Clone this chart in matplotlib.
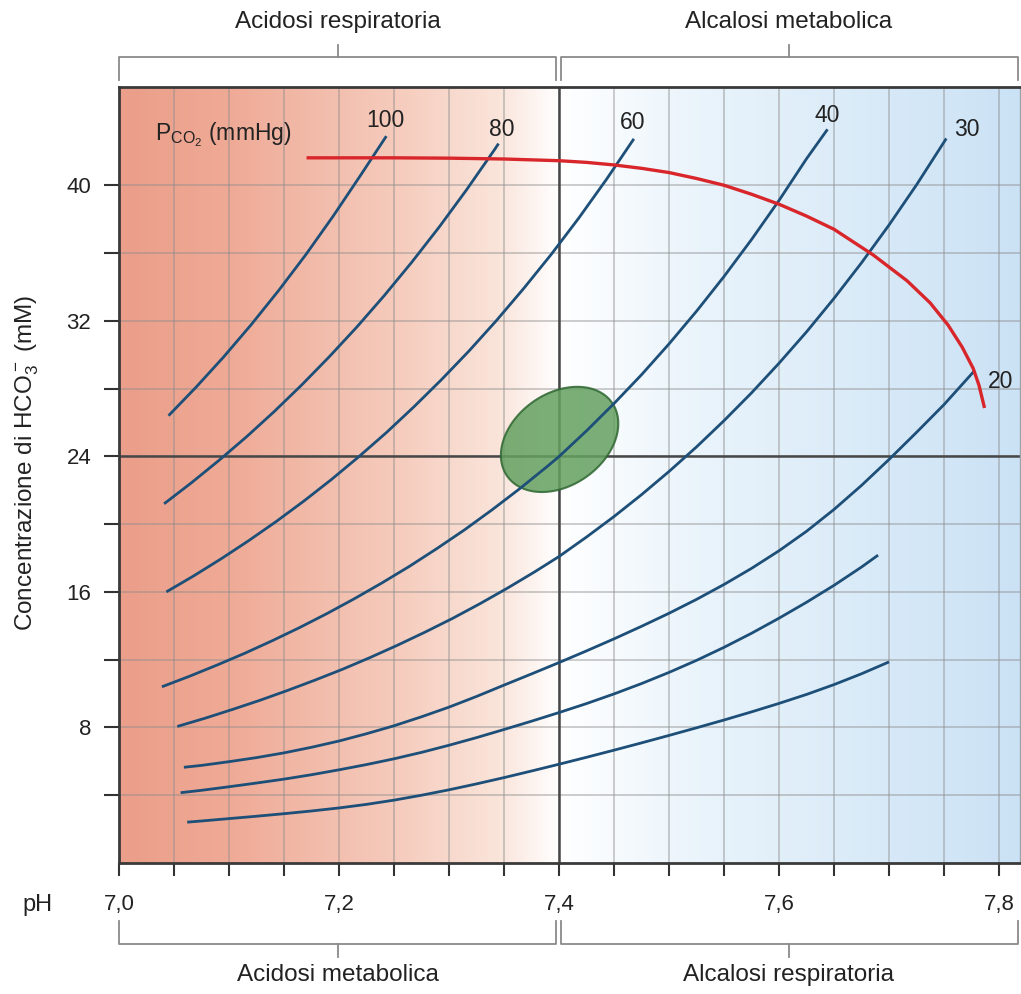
import numpy as np
import matplotlib
matplotlib.use("Agg")
import matplotlib.pyplot as plt
from matplotlib.colors import LinearSegmentedColormap

plt.rcParams['font.family'] = ['Liberation Sans', 'DejaVu Sans']
plt.rcParams['mathtext.fontset'] = 'custom'
plt.rcParams['mathtext.rm'] = 'Liberation Sans'
plt.rcParams['mathtext.it'] = 'Liberation Sans:italic'
plt.rcParams['mathtext.bf'] = 'Liberation Sans:bold'

# ---------------- data ----------------
# PCO2 isobars: pH vs HCO3- (mM)
ph_100 = [7.045, 7.070, 7.095, 7.120, 7.145, 7.170, 7.195, 7.220, 7.243]
hco3_100 = [26.40, 28.08, 29.86, 31.76, 33.78, 35.92, 38.21, 40.63, 42.90]

ph_80 = [7.041, 7.066, 7.091, 7.116, 7.141, 7.166, 7.191, 7.216, 7.241, 7.266, 7.291,
         7.316, 7.341, 7.345]
hco3_80 = [21.20, 22.45, 23.77, 25.16, 26.64, 28.21, 29.87, 31.62, 33.48, 35.45, 37.53,
           39.74, 42.07, 42.46]

ph_60 = [7.043, 7.068, 7.093, 7.118, 7.143, 7.168, 7.193, 7.218, 7.243, 7.268, 7.293,
         7.318, 7.343, 7.368, 7.393, 7.418, 7.443, 7.468]
hco3_60 = [16.00, 16.95, 17.96, 19.03, 20.16, 21.36, 22.63, 23.98, 25.40, 26.92, 28.52,
           30.21, 32.01, 33.92, 35.93, 38.07, 40.34, 42.74]

ph_40 = [7.039, 7.064, 7.089, 7.114, 7.139, 7.164, 7.189, 7.214, 7.239, 7.264, 7.289,
         7.314, 7.339, 7.364, 7.389, 7.400, 7.425, 7.450, 7.475, 7.500, 7.525, 7.550,
         7.575, 7.600, 7.625, 7.644]
hco3_40 = [10.40, 11.02, 11.68, 12.37, 13.11, 13.89, 14.72, 15.60, 16.53, 17.51, 18.56,
           19.66, 20.84, 22.08, 23.39, 23.99, 25.51, 27.12, 28.82, 30.64, 32.57, 34.62,
           36.80, 39.11, 41.57, 43.30]

ph_30 = [7.053, 7.078, 7.103, 7.128, 7.153, 7.178, 7.203, 7.228, 7.253, 7.278, 7.303,
         7.328, 7.353, 7.378, 7.400, 7.425, 7.450, 7.475, 7.500, 7.525, 7.550, 7.575,
         7.600, 7.625, 7.650, 7.675, 7.700, 7.725, 7.752]
hco3_30 = [8.06, 8.54, 9.06, 9.60, 10.18, 10.79, 11.43, 12.12, 12.85, 13.62, 14.43,
           15.30, 16.22, 17.19, 18.09, 19.24, 20.45, 21.74, 23.11, 24.56, 26.11, 27.75,
           29.50, 31.35, 33.33, 35.43, 37.66, 40.03, 42.76]

ph_20 = [7.059, 7.075, 7.10, 7.125, 7.15, 7.175, 7.20, 7.225, 7.25, 7.275, 7.30, 7.325,
         7.35, 7.375, 7.40, 7.425, 7.45, 7.475, 7.50, 7.525, 7.55, 7.575, 7.60, 7.625,
         7.65, 7.675, 7.70, 7.725, 7.75, 7.778]
hco3_20 = [5.65, 5.76, 5.98, 6.22, 6.50, 6.83, 7.20, 7.63, 8.10, 8.63, 9.20, 9.83,
           10.50, 11.16, 11.83, 12.52, 13.23, 13.97, 14.74, 15.56, 16.44, 17.39, 18.43, 19.58,
           20.87, 22.29, 23.82, 25.42, 27.06, 29.08]

ph_15 = [7.056, 7.075, 7.10, 7.125, 7.15, 7.175, 7.20, 7.225, 7.25, 7.275, 7.30, 7.325,
         7.35, 7.375, 7.40, 7.425, 7.45, 7.475, 7.50, 7.525, 7.55, 7.575, 7.60, 7.625,
         7.65, 7.675, 7.69]
hco3_15 = [4.15, 4.29, 4.50, 4.72, 4.95, 5.21, 5.50, 5.81, 6.15, 6.53, 6.95, 7.40,
           7.88, 8.37, 8.88, 9.41, 9.98, 10.59, 11.25, 11.96, 12.73, 13.56, 14.45, 15.39,
           16.39, 17.47, 18.17]

ph_10 = [7.062, 7.075, 7.10, 7.125, 7.15, 7.175, 7.20, 7.225, 7.25, 7.275, 7.30, 7.325,
         7.35, 7.375, 7.40, 7.425, 7.45, 7.475, 7.50, 7.525, 7.55, 7.575, 7.60, 7.625,
         7.65, 7.675, 7.70]
hco3_10 = [2.41, 2.48, 2.62, 2.76, 2.91, 3.07, 3.25, 3.46, 3.71, 4.00, 4.32, 4.67,
           5.04, 5.43, 5.83, 6.24, 6.66, 7.09, 7.53, 7.98, 8.44, 8.92, 9.42, 9.95,
           10.53, 11.17, 11.87]

# blood buffer line (red)
ph_buffer = [7.172, 7.25, 7.30, 7.35, 7.40, 7.425, 7.45, 7.475, 7.50, 7.525, 7.55, 7.575,
             7.60, 7.625, 7.65, 7.6855, 7.7164, 7.7373, 7.7536, 7.7664, 7.7764, 7.7817, 7.7864]
hco3_buffer = [41.62, 41.62, 41.6, 41.55, 41.45, 41.35, 41.2, 41.0, 40.75, 40.4, 40.0, 39.47,
               38.88, 38.18, 37.4, 35.89, 34.36, 33.06, 31.75, 30.45, 29.2, 28.2, 26.95]

normal_ph = 7.40
normal_hco3 = 24.0
ellipse_center = (7.4005, 25.0)

pco2_labels = ['100', '80', '60', '40', '30', '20']
label_pos = [(7.242, 43.8), (7.348, 43.3), (7.467, 43.7), (7.644, 44.1), (7.771, 43.3), (7.801, 28.4)]

xtick_major = [7.0, 7.2, 7.4, 7.6, 7.8]
xtick_labels = ['7,0', '7,2', '7,4', '7,6', '7,8']
xtick_minor = [7.05, 7.10, 7.15, 7.25, 7.30, 7.35, 7.45, 7.50, 7.55, 7.65, 7.70, 7.75]
ytick_major = [8, 16, 24, 32, 40]
ytick_labels = ['8', '16', '24', '32', '40']
ytick_minor = [4, 12, 20, 28, 36]

top_groups = ['Acidosi respiratoria', 'Alcalosi metabolica']
bottom_groups = ['Acidosi metabolica', 'Alcalosi respiratoria']

# ---------------- figure ----------------
W, H = 1021, 994
fig = plt.figure(figsize=(W / 100, H / 100), dpi=100)
ax_l, ax_b, ax_w, ax_h = 119, 131, 901, 776
ax = fig.add_axes([ax_l / W, ax_b / H, ax_w / W, ax_h / H])
xmin, xmax = 7.0, 7.819
ymin, ymax = 0.0, 45.8
ax.set_xlim(xmin, xmax)
ax.set_ylim(ymin, ymax)

# background gradient
stops = [(0.00, (235, 158, 137)), (0.12, (239, 170, 150)), (0.30, (245, 202, 187)),
         (0.42, (250, 228, 218)), (0.488, (255, 255, 255)), (0.66, (232, 243, 251)),
         (1.00, (203, 226, 245))]
cmap = LinearSegmentedColormap.from_list('bg', [(p, tuple(c / 255 for c in rgb)) for p, rgb in stops])
grad = np.linspace(0, 1, 600)[None, :]
ax.imshow(grad, extent=[xmin, xmax, ymin, ymax], aspect='auto', cmap=cmap, zorder=0,
          interpolation='bicubic')

ax.set_xticks(xtick_major)
ax.set_xticklabels(xtick_labels)
ax.set_xticks(xtick_minor, minor=True)
ax.set_yticks(ytick_major)
ax.set_yticklabels(ytick_labels)
ax.set_yticks(ytick_minor, minor=True)
ax.grid(which='both', color='#8c8c8c', alpha=0.55, lw=1.1, zorder=1)
ax.tick_params(axis='x', which='both', direction='out', length=9, width=1.5, color='#333333',
               labelsize=16, pad=13, labelcolor='#222222')
ax.tick_params(axis='y', which='both', direction='out', length=11, width=1.5, color='#333333',
               labelsize=16, pad=9, labelcolor='#222222')
for s in ['left', 'bottom', 'top']:
    ax.spines[s].set_color('#3a3a3a')
    ax.spines[s].set_linewidth(2)
ax.spines['right'].set_color('#9aa4ad')
ax.spines['right'].set_linewidth(1)

ax.axvline(normal_ph, color='#474747', lw=1.8, zorder=2)
ax.axhline(normal_hco3, color='#474747', lw=1.8, zorder=2)

# normal-value ellipse (shape given in pixels, converted to data units)
sx = ax_w / (xmax - xmin)
sy = ax_h / (ymax - ymin)
t = np.linspace(0, 2 * np.pi, 200)
a_px, b_px, ang = 64, 46, np.deg2rad(35)
ex = ellipse_center[0] + (a_px * np.cos(t) * np.cos(ang) - b_px * np.sin(t) * np.sin(ang)) / sx
ey = ellipse_center[1] + (a_px * np.cos(t) * np.sin(ang) + b_px * np.sin(t) * np.cos(ang)) / sy
ax.fill(ex, ey, facecolor='#64a060', edgecolor='#2e6631', lw=1.5, alpha=0.85, zorder=3)

blue = '#1d4f78'
for px, py in [(ph_100, hco3_100), (ph_80, hco3_80), (ph_60, hco3_60), (ph_40, hco3_40),
               (ph_30, hco3_30), (ph_20, hco3_20), (ph_15, hco3_15), (ph_10, hco3_10)]:
    ax.plot(px, py, color=blue, lw=2.0, solid_capstyle='butt', solid_joinstyle='round', zorder=4)

ax.plot(ph_buffer, hco3_buffer, color='#d8262b', lw=2.4, solid_joinstyle='round', zorder=5)

for lab, (lx, ly) in zip(pco2_labels, label_pos):
    ax.text(lx, ly, lab, fontsize=16.5, ha='center', va='center', color='#222222', zorder=6)
ax.text(7.033, 43.0, r'P$_{\mathrm{CO_2}}$ (mmHg)', fontsize=16.5, ha='left', va='center',
        color='#222222', zorder=6)

# brackets above and below the plot
tr = ax.get_xaxis_transform()
bc = '#8a8a8a'


def ypx(p):
    return (H - p - ax_b) / ax_h


spans = [(xmin, 7.397, 7.199), (7.402, 7.817, 7.609)]
for (x0, x1, xc), lab in zip(spans, top_groups):
    yl, ye, yt, ytxt = ypx(57), ypx(80), ypx(45), ypx(22)
    ax.plot([x0, x0, x1, x1], [ye, yl, yl, ye], color=bc, lw=1.3, transform=tr, clip_on=False)
    ax.plot([xc, xc], [yl, yt], color=bc, lw=1.3, transform=tr, clip_on=False)
    ax.text(xc, ytxt, lab, transform=tr, ha='center', va='center', fontsize=17.5, color='#222222')
for (x0, x1, xc), lab in zip(spans, bottom_groups):
    yl, ye, yt, ytxt = ypx(944), ypx(921), ypx(957), ypx(975)
    ax.plot([x0, x0, x1, x1], [ye, yl, yl, ye], color=bc, lw=1.3, transform=tr, clip_on=False)
    ax.plot([xc, xc], [yl, yt], color=bc, lw=1.3, transform=tr, clip_on=False)
    ax.text(xc, ytxt, lab, transform=tr, ha='center', va='center', fontsize=17.5, color='#222222')

fig.text(22 / W, 1 - 905 / H, 'pH', ha='left', va='center', fontsize=17, color='#222222')
fig.text(27 / W, 1 - 463 / H, r'Concentrazione di HCO$_3^-$ (mM)', rotation=90,
         ha='center', va='center', fontsize=17.5, color='#222222')

fig.savefig('out.png', dpi=100, facecolor='white')
